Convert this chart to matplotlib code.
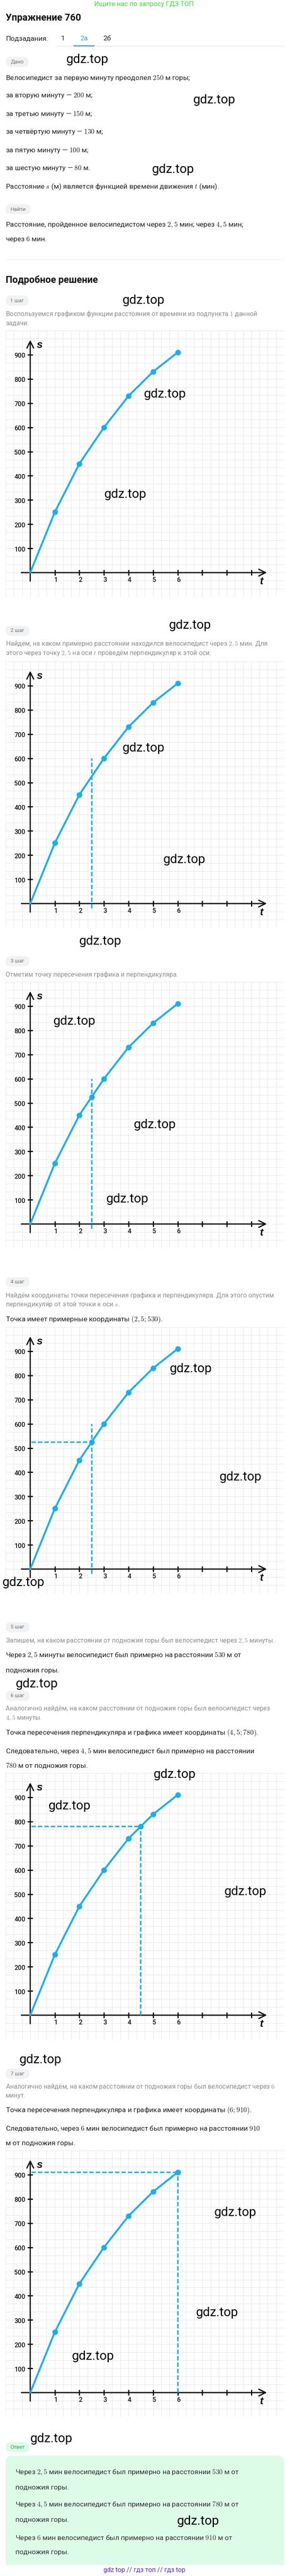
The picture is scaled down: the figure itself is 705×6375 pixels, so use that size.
import numpy as np
import matplotlib
matplotlib.use("Agg")
import matplotlib.pyplot as plt
from matplotlib.patches import FancyBboxPatch, Rectangle

# Page size in pixels
W, H = 705, 6375

plt.rcParams['font.family'] = ['Roboto', 'DejaVu Sans']
plt.rcParams['mathtext.fontset'] = 'cm'

# Data
t_min = [0, 1, 2, 3, 4, 5, 6]
s_m = [0, 250, 450, 600, 730, 830, 910]
t_ticks = [1, 2, 3, 4, 5, 6, 7, 8, 9]
t_labels = ["1", "2", "3", "4", "5", "6", "", "", ""]
s_ticks = [100, 200, 300, 400, 500, 600, 700, 800, 900]

# one entry per chart (step 1..7 drawings)
perp_t = [None, 2.5, 2.5, 2.5, 4.5, 6]
perp_top = [None, 600, 600, 600, None, None]
perp_bottom = [None, -20, -20, -20, 0, 0]
show_mark = [False, False, True, True, True, True]
show_horiz = [False, False, False, True, True, True]

# Colors
BLUE = "#1aaeef"
AXC = "#111111"
GRID = "#e6e6e6"
DARK = "#222222"
GREY = "#8d8d8d"
PILL = "#f1f2f4"

chart_tops = [818, 1637, 2430, 3284, 4388, 5322]
CHART_H = 659

fig = plt.figure(figsize=(W / 100, H / 100), dpi=100)
page = fig.add_axes([0, 0, 1, 1])
page.set_xlim(0, W)
page.set_ylim(H, 0)
page.axis("off")


def txt(x, y, s, size=12.5, color=DARK, weight="normal", ha="left", family=None):
    kw = {}
    if family:
        kw["family"] = family
    page.text(x, y, s, fontsize=size, color=color, fontweight=weight,
              ha=ha, va="center", **kw)


def pill(y, label, w=57, bg=PILL, fg="#6f6f6f"):
    page.add_patch(FancyBboxPatch((14, y - 12.5), w, 25,
                                  boxstyle="round,pad=0,rounding_size=12.5",
                                  fc=bg, ec="none"))
    txt(14 + w / 2, y, label, size=9.5, color=fg, ha="center")


# Header
txt(356, 11, "Ищите нас по запросу ГДЗ ТОП", size=12, color="#44d444", ha="center")
txt(14, 45, "Упражнение 760", size=17, color="#111111", weight="bold")
txt(14, 96, "Подзадания:", size=12.5)
txt(155, 96, "1", size=12.5, ha="center")
txt(208, 96, "2а", size=12.5, color="#3b9fd8", ha="center")
txt(265, 96, "2б", size=12.5, ha="center")
page.plot([137, 703], [114, 114], color="#e4e4e4", lw=1)
page.plot([183, 232], [113, 113], color="#3b9fd8", lw=2)

pill(153, "Дано")
given = [
    (193, "Велосипедист за первую минуту преодолел $250$ м горы;"),
    (237, "за вторую минуту — $200$ м;"),
    (282, "за третью минуту — $150$ м;"),
    (327, "за четвёртую минуту — $130$ м;"),
    (372, "за пятую минуту — $100$ м;"),
    (417, "за шестую минуту — $80$ м."),
    (462, "Расстояние $s$ (м) является функцией времени движения $t$ (мин)."),
]
for y, s in given:
    txt(14, y, s)

pill(518, "Найти", w=62)
txt(14, 557, "Расстояние, пройденное велосипедистом через $2,5$ мин; через $4,5$ мин;")
txt(14, 592, "через $6$ мин.")
page.plot([14, 703], [642, 642], color="#eeeeee", lw=1)
txt(14, 693, "Подробное решение", size=17, color="#111111", weight="bold")

# Steps text
pill(744, "1 шаг")
txt(14, 777, "Воспользуемся графиком функции расстояния от времени из подпункта $1$ данной", size=11.5, color=GREY)
txt(14, 800, "задачи.", size=11.5, color=GREY)

pill(1561, "2 шаг", w=59)
txt(14, 1594, "Найдём, на каком примерно расстоянии находился велосипедист через $2,5$ мин. Для", size=11.5, color=GREY)
txt(14, 1617, "этого через точку $2,5$ на оси $t$ проведём перпендикуляр к этой оси.", size=11.5, color=GREY)

pill(2379, "3 шаг", w=59)
txt(14, 2412, "Отметим точку пересечения графика и перпендикуляра.", size=11.5, color=GREY)

pill(3173, "4 шаг", w=59)
txt(14, 3206, "Найдём координаты точки пересечения графика и перпендикуляра. Для этого опустим", size=11.5, color=GREY)
txt(14, 3228, "перпендикуляр от этой точки к оси $s$.", size=11.5, color=GREY)
txt(14, 3266, "Точка имеет примерные координаты $(2,5; 530)$.")

pill(4027, "5 шаг", w=59)
txt(14, 4060, "Запишем, на каком расстоянии от подножия горы был велосипедист через $2,5$ минуты.", size=11.5, color=GREY)
txt(14, 4097, "Через $2,5$ минуты велосипедист был примерно на расстоянии $530$ м от")
txt(14, 4134, "подножия горы.")

pill(4197, "6 шаг", w=59)
txt(14, 4228, "Аналогично найдём, на каком расстоянии от подножия горы был велосипедист через", size=11.5, color=GREY)
txt(14, 4252, "$4,5$ минуты.", size=11.5, color=GREY)
txt(14, 4289, "Точка пересечения перпендикуляра и графика имеет координаты $(4,5; 780)$.")
txt(14, 4335, "Следовательно, через $4,5$ мин велосипедист был примерно на расстоянии")
txt(14, 4370, "$780$ м от подножия горы.")

pill(5132, "7 шаг", w=59)
txt(14, 5164, "Аналогично найдём, на каком расстоянии от подножия горы был велосипедист через $6$", size=11.5, color=GREY)
txt(14, 5186, "минут.", size=11.5, color=GREY)
txt(14, 5223, "Точка пересечения перпендикуляра и графика имеет координаты $(6; 910)$.")
txt(14, 5268, "Следовательно, через $6$ мин велосипедист был примерно на расстоянии $910$")
txt(14, 5305, "м от подножия горы.")

# Answer block
pill(6056, "Ответ", w=59, bg="#dcfce7", fg="#2f9e5a")
page.add_patch(FancyBboxPatch((14, 6077), 689, 271,
                              boxstyle="round,pad=0,rounding_size=16",
                              fc="#ddfce8", ec="none"))
page.add_patch(Rectangle((14, 6200), 689, 148, fc="#ddfce8", ec="none"))
answer = [
    (6119, "Через $2,5$ мин велосипедист был примерно на расстоянии $530$ м от"),
    (6156, "подножия горы."),
    (6199, "Через $4,5$ мин велосипедист был примерно на расстоянии $780$ м от"),
    (6236, "подножия горы."),
    (6281, "Через $6$ мин велосипедист был примерно на расстоянии $910$ м от"),
    (6317, "подножия горы."),
]
for y, s in answer:
    txt(38, y, s, color="#333333")
txt(357, 6360, "gdz top // гдз топ // гдз top", size=11.5, color="#5e2ca5", ha="center")


# Charts
def draw_chart(k, top):
    ax = fig.add_axes([14 / W, 1 - (top + CHART_H) / H, 689 / W, CHART_H / H])
    ax.set_xlim(-1, 10 + 1 / 3)
    ax.set_ylim(-100, 1000)
    ax.axis("off")

    for v in np.arange(-1, 10.34, 1 / 3):
        ax.axvline(v, color=GRID, lw=0.8, zorder=0)
    for h in np.arange(-100, 1001, 100 / 3):
        ax.axhline(h, color=GRID, lw=0.8, zorder=0)

    arrow = dict(arrowstyle="->,head_length=0.6,head_width=0.3", lw=2.2,
                 color=AXC, mutation_scale=20, shrinkA=0, shrinkB=0)
    ax.annotate("", xy=(9.63, 0), xytext=(-0.36, 0), arrowprops=arrow, zorder=2)
    ax.annotate("", xy=(0, 961), xytext=(0, -35), arrowprops=arrow, zorder=2)
    ax.vlines(t_ticks, -12, 12, color=AXC, lw=2.2, zorder=2)
    ax.hlines(s_ticks, -0.11, 0.11, color=AXC, lw=2.2, zorder=2)

    for tk, lb in zip(t_ticks, t_labels):
        ax.text(tk + 0.04, -30, lb, ha="center", va="center", fontsize=11.5,
                fontweight="medium", color=AXC)
    for v in s_ticks:
        ax.text(-0.2, v - 5, str(v), ha="right", va="center", fontsize=11.5,
                fontweight="medium", color=AXC)
    ax.text(0.38, 940, "s", fontsize=19, fontweight="bold", fontstyle="italic",
            family="Liberation Sans", ha="center", va="center", color=AXC)
    ax.text(9.41, -36, "t", fontsize=19, fontweight="bold", fontstyle="italic",
            family="Liberation Sans", ha="center", va="center", color=AXC)

    pt = perp_t[k]
    if pt is not None:
        ps = np.interp(pt, t_min, s_m)
        ytop = perp_top[k] if perp_top[k] is not None else ps
        ax.plot([pt, pt], [perp_bottom[k], ytop], color=BLUE, lw=2.6,
                ls=(0, (3.0, 1.4)), zorder=2.5)
        if show_horiz[k]:
            ax.plot([0.06, pt], [ps, ps], color=BLUE, lw=2.6,
                    ls=(0, (3.0, 1.4)), zorder=2.5)

    ax.plot(t_min, s_m, color=BLUE, lw=3.3, solid_capstyle="round", zorder=3)
    ax.plot(t_min[1:], s_m[1:], "o", ms=9, color=BLUE, zorder=4)
    if pt is not None and show_mark[k]:
        ax.plot([pt], [ps], "o", ms=9, color=BLUE, zorder=4)


for k, top in enumerate(chart_tops):
    draw_chart(k, top)

# Watermarks
marks = [(216, 148), (530, 248), (428, 420), (355, 744), (408, 976), (310, 1223),
         (470, 1547), (355, 1851), (456, 2127), (248, 2330), (184, 2527),
         (383, 2783), (315, 2967), (472, 3388), (595, 3656), (58, 3916),
         (91, 4167), (432, 4392), (172, 4469), (607, 4681), (100, 5098),
         (582, 5476), (537, 5724), (230, 5831), (127, 6035), (490, 6240)]
for x, y in marks:
    fig.text(x / W, 1 - y / H, "gdz.top", fontsize=22.5, color="black",
             ha="center", va="center", family="Roboto", zorder=10)

fig.savefig("out.png", dpi=100)
